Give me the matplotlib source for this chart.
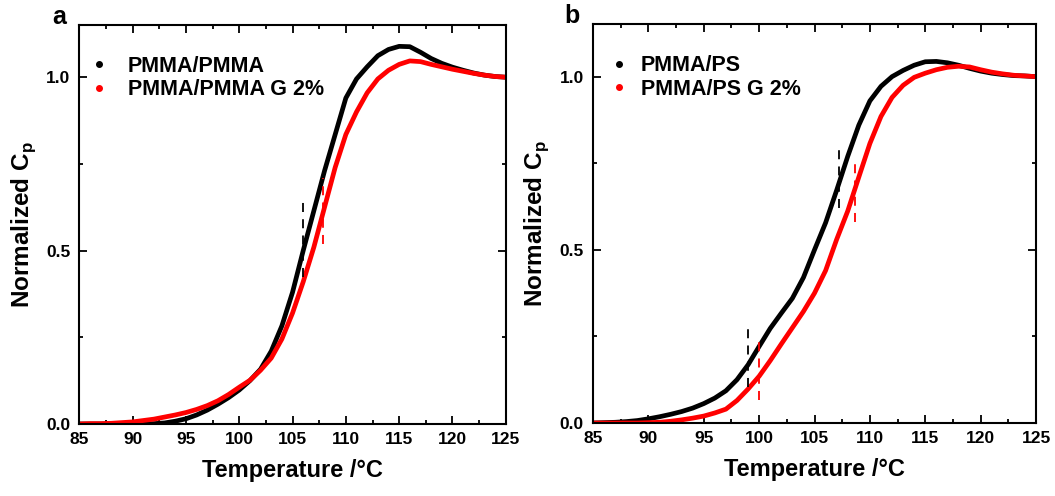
import numpy as np
import matplotlib
matplotlib.use("Agg")
import matplotlib.pyplot as plt
from matplotlib.lines import Line2D

plt.rcParams['font.family'] = ['Liberation Sans', 'DejaVu Sans']
plt.rcParams['font.weight'] = 'bold'
plt.rcParams['mathtext.fontset'] = 'custom'
plt.rcParams['mathtext.bf'] = 'Liberation Sans:bold'
plt.rcParams['mathtext.rm'] = 'Liberation Sans:bold'

# ===== DATA =====
temp = [85, 86, 87, 88, 89, 90, 91, 92, 93, 94, 95, 96, 97, 98, 99, 100, 101, 102,
        103, 104, 105, 106, 107, 108, 109, 110, 111, 112, 113, 114, 115, 116, 117,
        118, 119, 120, 121, 122, 123, 124, 125]

# panel a : PMMA/PMMA
cp_pmma = [0.0, 0.0, 0.0, 0.0, 0.0, 0.0, 0.0, 0.001, 0.003, 0.008, 0.015, 0.026, 0.04,
           0.057, 0.076, 0.098, 0.125, 0.158, 0.21, 0.283, 0.38, 0.5, 0.615, 0.73, 0.835,
           0.94, 0.995, 1.03, 1.062, 1.08, 1.089, 1.088, 1.072, 1.054, 1.04, 1.029, 1.02,
           1.012, 1.006, 1.002, 1.0]
cp_pmma_g = [0.0, 0.001, 0.001, 0.002, 0.004, 0.006, 0.01, 0.014, 0.02, 0.026, 0.033,
             0.042, 0.053, 0.067, 0.085, 0.106, 0.126, 0.155, 0.19, 0.245, 0.32, 0.41,
             0.51, 0.625, 0.74, 0.835, 0.9, 0.955, 0.995, 1.02, 1.037, 1.047, 1.045,
             1.037, 1.03, 1.023, 1.017, 1.011, 1.006, 1.002, 1.0]

# panel b : PMMA/PS
cp_ps = [0.0, 0.001, 0.002, 0.004, 0.007, 0.012, 0.018, 0.025, 0.033, 0.043, 0.056,
         0.072, 0.093, 0.125, 0.168, 0.221, 0.273, 0.317, 0.36, 0.42, 0.5, 0.578, 0.672,
         0.77, 0.86, 0.93, 0.972, 1.0, 1.018, 1.033, 1.043, 1.044, 1.04, 1.033, 1.024,
         1.016, 1.01, 1.006, 1.003, 1.002, 1.0]
cp_ps_g = [0.0, 0.0, 0.0, 0.0, 0.0, 0.001, 0.002, 0.005, 0.009, 0.014, 0.02, 0.029,
           0.04, 0.065, 0.098, 0.135, 0.18, 0.228, 0.275, 0.322, 0.375, 0.44, 0.53,
           0.612, 0.71, 0.807, 0.885, 0.94, 0.975, 0.998, 1.01, 1.02, 1.027, 1.03, 1.028,
           1.02, 1.013, 1.008, 1.004, 1.002, 1.0]

# dashed Tg markers: (T, y_low, y_high, colour)
marks_a = [(105.95, 0.425, 0.655, 'black'), (107.9, 0.52, 0.71, 'red')]
marks_b = [(98.95, 0.105, 0.277, 'black'), (100.0, 0.067, 0.24, 'red'),
           (107.2, 0.62, 0.79, 'black'), (108.7, 0.58, 0.75, 'red')]

labels_a = ["PMMA/PMMA", "PMMA/PMMA G 2%"]
labels_b = ["PMMA/PS", "PMMA/PS G 2%"]


def style_axes(ax):
    ax.set_xlim(85, 125)
    ax.set_ylim(0, 1.152)
    ax.set_xticks(np.arange(85, 126, 5))
    ax.set_xticks(np.arange(85, 126, 2.5), minor=True)
    ax.set_yticks([0.0, 0.5, 1.0])
    ax.set_yticks([0.25, 0.75], minor=True)
    ax.set_yticklabels(["0.0", "0.5", "1.0"])
    ax.tick_params(which='both', direction='in', top=True, right=True,
                   labelsize=12.5, width=1.3)
    ax.tick_params(which='major', length=6)
    ax.tick_params(which='minor', length=3)
    ax.tick_params(axis='y', pad=6.5)
    ax.tick_params(axis='x', pad=5.5)
    for lbl in ax.get_xticklabels() + ax.get_yticklabels():
        lbl.set_fontweight('bold')
    for s in ax.spines.values():
        s.set_linewidth(1.5)
    ax.set_xlabel("Temperature /°C", fontsize=17, fontweight='bold', labelpad=9)
    ax.set_ylabel(r"Normalized C$_{\mathbf{p}}$", fontsize=17.5, fontweight='bold',
                  labelpad=6)


def draw_panel(ax, y1, y2, marks, labels, tag, leg_x, txt_pad):
    ax.plot(temp, y1, color='black', linewidth=3.4, solid_capstyle='round')
    ax.plot(temp, y2, color='red', linewidth=3.4, solid_capstyle='round')
    for x, lo, hi, c in marks:
        ax.plot([x, x], [lo, hi], color=c, linewidth=1.3, linestyle=(0, (5, 4)))
    style_axes(ax)
    handles = [Line2D([], [], color='black', marker='o', linestyle='none', markersize=4),
               Line2D([], [], color='red', marker='o', linestyle='none', markersize=4)]
    ax.legend(handles, labels, loc='upper left', bbox_to_anchor=(leg_x, 0.922),
              frameon=False, borderpad=0, borderaxespad=0, handlelength=1.0,
              handletextpad=txt_pad, labelspacing=0.12,
              prop={'weight': 'bold', 'size': 15.5})
    ax.text(-0.047, 1.002, tag, transform=ax.transAxes, fontsize=18, fontweight='bold',
            ha='center', va='baseline')


fig = plt.figure(figsize=(10.55, 4.96), dpi=100)
ax1 = fig.add_axes([0.0752, 0.1452, 0.4042, 0.8054])
ax2 = fig.add_axes([0.5621, 0.1472, 0.4199, 0.8044])

draw_panel(ax1, cp_pmma, cp_pmma_g, marks_a, labels_a, "a", 0.0217, 0.82)
draw_panel(ax2, cp_ps, cp_ps_g, marks_b, labels_b, "b", 0.0344, 0.52)

fig.savefig("out.png", dpi=100)
